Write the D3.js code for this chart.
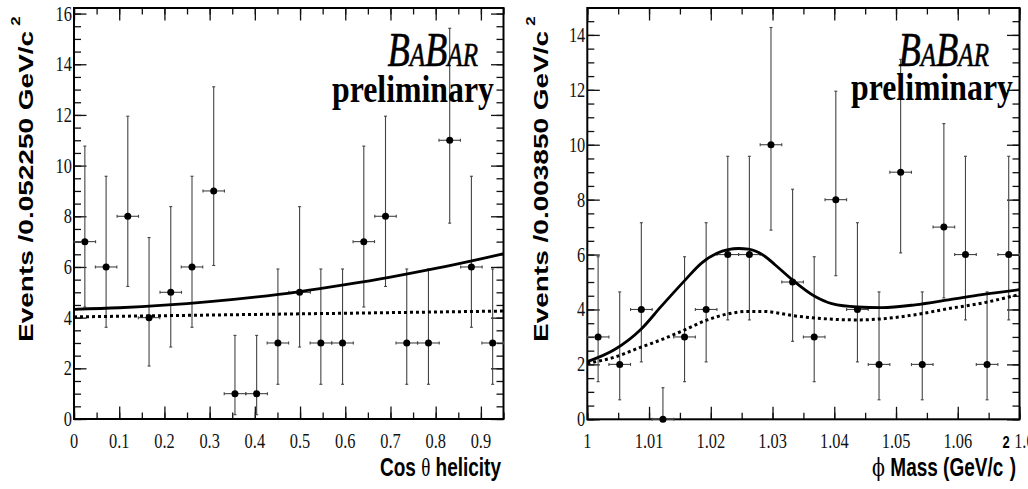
<!DOCTYPE html>
<html>
<head>
<meta charset="utf-8">
<script src="https://cdn.jsdelivr.net/npm/d3@7"></script>
<style>
  body { margin: 0; background: #fff; }
  svg { display: block; }
</style>
</head>
<body>
<svg id="chart" width="1028" height="489"></svg>
<script>
// ---------- cos(theta) helicity distribution ----------
const helCenters = [0.024, 0.071, 0.119, 0.166, 0.214, 0.261, 0.309, 0.356, 0.404, 0.451,
                    0.499, 0.546, 0.594, 0.641, 0.689, 0.736, 0.784, 0.831, 0.879, 0.926];
const helHalfWidth = 0.02375;
const helCounts = [7, 6, 8, 4, 5, 6, 9, 1, 1, 3, 5, 3, 3, 7, 8, 3, 3, 11, 6, 3];
const helLow  = [4.42, 3.62, 5.23, 2.09, 2.84, 3.62, 6.06, 0.17, 0.17, 1.37,
                 2.84, 1.37, 1.37, 4.42, 5.23, 1.37, 1.37, 7.73, 3.62, 1.37];
const helHigh = [10.77, 9.58, 11.95, 7.16, 8.38, 9.58, 13.11, 3.30, 3.30, 5.92,
                 8.38, 5.92, 5.92, 10.77, 11.95, 5.92, 5.92, 15.42, 9.58, 5.92];
// total fit and background component
const helFitX   = [0, 0.1, 0.2, 0.3, 0.4, 0.5, 0.6, 0.7, 0.8, 0.9, 0.95];
const helFitY   = [4.33, 4.39, 4.49, 4.63, 4.81, 5.03, 5.30, 5.60, 5.94, 6.32, 6.52];
const helBkgX   = [0, 0.25, 0.5, 0.75, 0.95];
const helBkgY   = [4.03, 4.09, 4.15, 4.21, 4.26];
const helXTicks = [0, 0.1, 0.2, 0.3, 0.4, 0.5, 0.6, 0.7, 0.8, 0.9];
const helYTicks = [0, 2, 4, 6, 8, 10, 12, 14, 16];

// ---------- phi mass distribution ----------
const phiCenters = [1.00175, 1.00525, 1.00875, 1.01225, 1.01575, 1.01925, 1.02275, 1.02625, 1.02975, 1.03325,
                    1.03675, 1.04025, 1.04375, 1.04725, 1.05075, 1.05425, 1.05775, 1.06125, 1.06475, 1.06825];
const phiHalfWidth = 0.00175;
const phiCounts = [3, 2, 4, 0, 3, 4, 6, 6, 10, 5, 3, 8, 4, 2, 9, 2, 7, 6, 2, 6];
const phiLow  = [1.37, 0.71, 2.09, 0, 1.37, 2.09, 3.62, 3.62, 6.89, 2.84,
                 1.37, 5.23, 2.09, 0.71, 6.06, 0.71, 4.42, 3.62, 0.71, 3.62];
const phiHigh = [5.92, 4.64, 7.16, 1.15, 5.92, 7.16, 9.58, 9.58, 14.27, 8.38,
                 5.92, 11.95, 7.16, 4.64, 13.11, 4.64, 10.77, 9.58, 4.64, 9.58];
const phiFitX = [1.000, 1.0045, 1.0087, 1.0120, 1.0158, 1.0185, 1.0210, 1.0228, 1.0245, 1.0261, 1.0288,
                 1.0304, 1.0332, 1.0369, 1.0396, 1.0437, 1.0477, 1.0531, 1.0585, 1.0639, 1.0700];
const phiFitY = [2.10, 2.55, 3.28, 4.12, 5.06, 5.69, 6.05, 6.18, 6.22, 6.20, 5.93,
                 5.63, 5.08, 4.47, 4.21, 4.09, 4.07, 4.17, 4.35, 4.54, 4.72];
const phiBkgX = [1.000, 1.0045, 1.0087, 1.0120, 1.0158, 1.0192, 1.0228, 1.0261, 1.0288, 1.0304,
                 1.0332, 1.0369, 1.0437, 1.0477, 1.0531, 1.0585, 1.0639, 1.0700];
const phiBkgY = [2.04, 2.27, 2.63, 2.90, 3.26, 3.60, 3.84, 3.93, 3.93, 3.89,
                 3.78, 3.69, 3.62, 3.66, 3.81, 4.03, 4.23, 4.55];
const phiXTicks = [1, 1.01, 1.02, 1.03, 1.04, 1.05, 1.06, 1.07];
const phiYTicks = [0, 2, 4, 6, 8, 10, 12, 14];

const SERIF = "'Liberation Serif', 'Times New Roman', serif";
const SANS  = "'Liberation Sans', Arial, Helvetica, sans-serif";
const SQUEEZE = 0.78;   // narrow ROOT-style lettering

const svg = d3.select("#chart");
const fmt = v => String(+v.toFixed(3));

function drawPanel(cfg, idx) {
  const x = d3.scaleLinear().domain(cfg.xDomain).range([cfg.left, cfg.right]);
  const y = d3.scaleLinear().domain(cfg.yDomain).range([cfg.bottom, cfg.top]);
  const g = svg.append("g");

  const clipId = "clip" + idx;
  g.append("clipPath").attr("id", clipId).append("rect")
    .attr("x", cfg.left).attr("y", cfg.top)
    .attr("width", cfg.right - cfg.left).attr("height", cfg.bottom - cfg.top);

  // tick marks on all four sides, pointing inward
  const xMinor = d3.range(cfg.xDomain[0], cfg.xDomain[1] + 1e-9, cfg.xMinorStep);
  const yMinor = d3.range(0, cfg.yDomain[1] + 1e-9, 0.5);
  const tickSets = [
    [d3.axisBottom(x), cfg.xTicks, 12.5, `translate(0,${cfg.bottom})`],
    [d3.axisBottom(x), xMinor, 6.5, `translate(0,${cfg.bottom})`],
    [d3.axisTop(x), cfg.xTicks, 12.5, `translate(0,${cfg.top})`],
    [d3.axisTop(x), xMinor, 6.5, `translate(0,${cfg.top})`],
    [d3.axisLeft(y), cfg.yTicks, 12.5, `translate(${cfg.left},0)`],
    [d3.axisLeft(y), yMinor, 7, `translate(${cfg.left},0)`],
    [d3.axisRight(y), cfg.yTicks, 12.5, `translate(${cfg.right},0)`],
    [d3.axisRight(y), yMinor, 7, `translate(${cfg.right},0)`]
  ];
  tickSets.forEach(([axis, vals, len, tr]) => {
    const a = g.append("g").attr("transform", tr)
      .call(axis.tickValues(vals).tickSizeInner(-len).tickSizeOuter(0).tickFormat(""));
    a.select(".domain").remove();
    a.selectAll("line").attr("stroke", "#111").attr("stroke-width", 1.3);
  });

  // frame
  g.append("rect")
    .attr("x", cfg.left).attr("y", cfg.top)
    .attr("width", cfg.right - cfg.left).attr("height", cfg.bottom - cfg.top)
    .attr("fill", "none").attr("stroke", "#000").attr("stroke-width", 2);

  // tick labels (the label at the far right end sits past the frame corner)
  const lastX = cfg.xTicks[cfg.xTicks.length - 1];
  g.selectAll(".xl").data(cfg.xTicks).join("text")
    .attr("transform", d => `translate(${x(d) + (d === lastX ? cfg.lastLabelShift : 0)},${cfg.bottom + 29}) scale(${SQUEEZE},1)`)
    .attr("text-anchor", "middle")
    .attr("font-family", SERIF).attr("font-size", 21).attr("fill", "#111")
    .text(fmt);
  g.selectAll(".yl").data(cfg.yTicks).join("text")
    .attr("transform", d => `translate(${cfg.left - 2},${y(d) + 7}) scale(${SQUEEZE},1)`)
    .attr("text-anchor", "end")
    .attr("font-family", SERIF).attr("font-size", 21).attr("fill", "#111")
    .text(fmt);

  // data points with asymmetric errors
  const pts = cfg.centers.map((c, i) => ({ c, n: cfg.counts[i], lo: cfg.low[i], hi: cfg.high[i] }));
  const eb = g.append("g").attr("stroke", "#444").attr("stroke-width", 1.1).attr("fill", "none");
  pts.forEach(p => {
    const px = x(p.c), py = y(p.n);
    const xa = x(p.c - cfg.halfWidth), xb = x(p.c + cfg.halfWidth);
    const ya = y(p.lo), yb = y(p.hi);
    eb.append("line").attr("x1", px).attr("x2", px).attr("y1", ya).attr("y2", yb);
    eb.append("line").attr("x1", px - 1.5).attr("x2", px + 1.5).attr("y1", ya).attr("y2", ya);
    eb.append("line").attr("x1", px - 1.5).attr("x2", px + 1.5).attr("y1", yb).attr("y2", yb);
    eb.append("line").attr("x1", xa).attr("x2", xb).attr("y1", py).attr("y2", py);
    eb.append("line").attr("x1", xa).attr("x2", xa).attr("y1", py - 1.5).attr("y2", py + 1.5);
    eb.append("line").attr("x1", xb).attr("x2", xb).attr("y1", py - 1.5).attr("y2", py + 1.5);
  });
  g.selectAll(".pt").data(pts).join("circle")
    .attr("cx", d => x(d.c)).attr("cy", d => y(d.n)).attr("r", 3.5).attr("fill", "#000");

  // fit curves
  const line = d3.line().x(d => x(d[0])).y(d => y(d[1])).curve(d3.curveMonotoneX);
  const curves = g.append("g").attr("clip-path", `url(#${clipId})`);
  curves.append("path").datum(d3.zip(cfg.bkgX, cfg.bkgY)).attr("d", line)
    .attr("fill", "none").attr("stroke", "#000").attr("stroke-width", 3)
    .attr("stroke-dasharray", "3,3");
  curves.append("path").datum(d3.zip(cfg.fitX, cfg.fitY)).attr("d", line)
    .attr("fill", "none").attr("stroke", "#000").attr("stroke-width", 2.8);

  // logo
  const logo = g.append("text")
    .attr("transform", `translate(${cfg.logoRight},${cfg.logoBase}) scale(0.76,1)`)
    .attr("text-anchor", "end").attr("font-family", SERIF).attr("font-style", "italic")
    .attr("fill", "#000").attr("stroke", "#000").attr("stroke-width", 0.6);
  [["B", 48], ["A", 33], ["B", 48], ["A", 33], ["R", 33]].forEach(([t, s]) =>
    logo.append("tspan").attr("font-size", s).text(t));
  g.append("text")
    .attr("transform", `translate(${cfg.prelimRight},${cfg.prelimBase}) scale(0.86,1)`)
    .attr("text-anchor", "end").attr("font-family", SERIF).attr("font-weight", "bold")
    .attr("font-size", 37).attr("fill", "#000").text("preliminary");

  // y-axis title
  const yt = g.append("text")
    .attr("transform", `translate(${cfg.yTitleX},342) scale(0.75,1) rotate(-90)`)
    .attr("font-family", SANS).attr("font-weight", "bold").attr("font-size", 28).attr("fill", "#000");
  yt.append("tspan").text(cfg.yTitle);
  yt.append("tspan").attr("font-size", 17).attr("dx", 5).attr("dy", -17).text("2");

  // x-axis title
  const xt = g.append("text")
    .attr("transform", `translate(${cfg.xTitleRight},476) scale(0.76,1)`)
    .attr("text-anchor", "end").attr("font-family", SANS).attr("font-weight", "bold")
    .attr("font-size", 25).attr("fill", "#000");
  cfg.xTitle(xt);
}

drawPanel({
  left: 74, right: 503.5, top: 8, bottom: 419,
  xDomain: [0, 0.95], yDomain: [0, 16.22], xMinorStep: 0.05,
  xTicks: helXTicks, yTicks: helYTicks, lastLabelShift: 0,
  centers: helCenters, halfWidth: helHalfWidth, counts: helCounts, low: helLow, high: helHigh,
  fitX: helFitX, fitY: helFitY, bkgX: helBkgX, bkgY: helBkgY,
  logoRight: 478, logoBase: 66, prelimRight: 494, prelimBase: 102,
  yTitleX: 33, yTitle: "Events /0.052250 GeV/c",
  xTitleRight: 501,
  xTitle: t => {
    t.append("tspan").text("Cos ");
    t.append("tspan").attr("font-family", SERIF).attr("font-weight", "normal").text("θ");
    t.append("tspan").text(" helicity");
  }
}, 0);

drawPanel({
  left: 587.3, right: 1019.5, top: 8, bottom: 419.3,
  xDomain: [1, 1.07], yDomain: [0, 14.98], xMinorStep: 0.005,
  xTicks: phiXTicks, yTicks: phiYTicks, lastLabelShift: 9,
  centers: phiCenters, halfWidth: phiHalfWidth, counts: phiCounts, low: phiLow, high: phiHigh,
  fitX: phiFitX, fitY: phiFitY, bkgX: phiBkgX, bkgY: phiBkgY,
  logoRight: 989, logoBase: 66, prelimRight: 1013, prelimBase: 100,
  yTitleX: 548, yTitle: "Events /0.003850 GeV/c",
  xTitleRight: 1016,
  xTitle: t => {
    t.append("tspan").attr("font-family", "'DejaVu Serif', serif").attr("font-weight", "normal").text("ϕ");
    t.append("tspan").text(" Mass (GeV/c");
    t.append("tspan").attr("font-size", 17).attr("dy", -28).attr("dx", -1).text("2");
    t.append("tspan").attr("dy", 28).text(")");
  }
}, 1);
</script>
</body>
</html>
